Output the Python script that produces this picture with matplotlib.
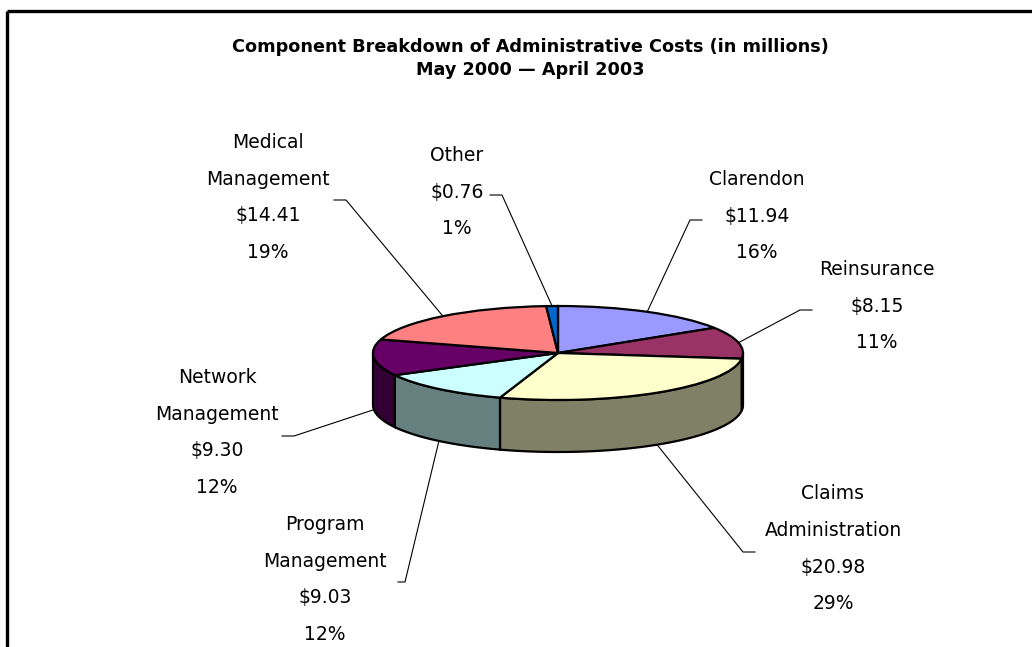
import numpy as np
import matplotlib
matplotlib.use("Agg")
import matplotlib.pyplot as plt
from matplotlib.colors import to_rgb

# ── data ─────────────────────────────────────────────────────────────
names = ["Clarendon", "Reinsurance", "Claims\nAdministration", "Program\nManagement",
         "Network\nManagement", "Medical\nManagement", "Other"]
values = [11.94, 8.15, 20.98, 9.03, 9.30, 14.41, 0.76]
pct_labels = ["16%", "11%", "29%", "12%", "12%", "19%", "1%"]
colors = ["#9999FF", "#993366", "#FFFFCC", "#CCFFFF", "#660066", "#FF8080", "#0066CC"]

title = "Component Breakdown of Administrative Costs (in millions)\nMay 2000 \u2014 April 2003"

# ── layout (pixel space) ─────────────────────────────────────────────
W, H = 1032, 647
CX, CY = 558, 353          # centre of the top face
R, B = 185, 47             # horizontal / vertical radius of the top face
DEPTH = 52                 # thickness of the pie
K = R / B                  # vertical squash factor

# label block: (x centre, y of first line), leader end, leader elbow
label_pos = [(757, 180), (877, 270), (833, 494), (325, 525), (217, 378), (268, 143), (457, 156)]
leader_end = [(702, 220), (812, 310), (755, 552), (398, 582), (282, 436), (334, 200), (490, 195)]
leader_elbow = [(690, 220), (800, 310), (743, 552), (405, 582), (294, 436), (346, 200), (502, 195)]
LINE_GAP = 36.5


def py(y):
    """pixel y -> data y (pie drawn as a circle, squashed by the axis scale)"""
    return (CY - y) * K


fig = plt.figure(figsize=(W / 100, H / 100), dpi=100)
ax = fig.add_axes([0, 0, 1, 1])

wedges, _ = ax.pie(values, colors=colors, startangle=90, counterclock=False,
                   center=(CX, 0), radius=R, normalize=True,
                   wedgeprops=dict(edgecolor="black", linewidth=1.6, zorder=3))

# side walls for the part of each slice facing the viewer
D = DEPTH * K
for w, c in zip(wedges, colors):
    t1, t2 = w.theta1, w.theta2
    dark = tuple(v * 0.5 for v in to_rgb(c))
    for off in (-360, 0, 360):
        lo, hi = max(t1, -180 + off), min(t2, 0 + off)
        if lo >= hi:
            continue
        t = np.radians(np.linspace(lo, hi, 120))
        xs = CX + R * np.cos(t)
        ys = R * np.sin(t)
        poly_x = np.concatenate([xs, xs[::-1]])
        poly_y = np.concatenate([ys, ys[::-1] - D])
        ax.fill(poly_x, poly_y, facecolor=dark, edgecolor="black", linewidth=1.6, zorder=2)

# labels + leader lines
for i, w in enumerate(wedges):
    mid = np.radians((w.theta1 + w.theta2) / 2)
    ax_x = CX + R * np.cos(mid)
    ax_y = R * np.sin(mid)
    if np.sin(mid) < 0:
        ax_y -= D
    ex, ey = leader_end[i]
    bx, by = leader_elbow[i]
    ax.plot([ex, bx, ax_x], [py(ey), py(by), ax_y], color="black", linewidth=0.8, zorder=4)

    lines = names[i].split("\n") + [f"${values[i]:.2f}", pct_labels[i]]
    lx, ly = label_pos[i]
    for j, s in enumerate(lines):
        ax.text(lx, py(ly + j * LINE_GAP), s, ha="center", va="center",
                fontsize=13.5, color="black", zorder=5)

ax.text(530, py(58.5), title, ha="center", va="center", fontsize=12.7,
        fontweight="bold", linespacing=1.38, zorder=5)

# frame of the original figure
ax.plot([7, W], [py(11), py(11)], color="black", linewidth=2.4, solid_capstyle="butt")
ax.plot([7, 7], [py(11), py(H)], color="black", linewidth=2.4, solid_capstyle="butt")

ax.set_aspect("auto")
ax.set_xlim(0, W)
ax.set_ylim(py(H), py(0))
ax.axis("off")

fig.savefig("out.png", dpi=100, facecolor="white")
